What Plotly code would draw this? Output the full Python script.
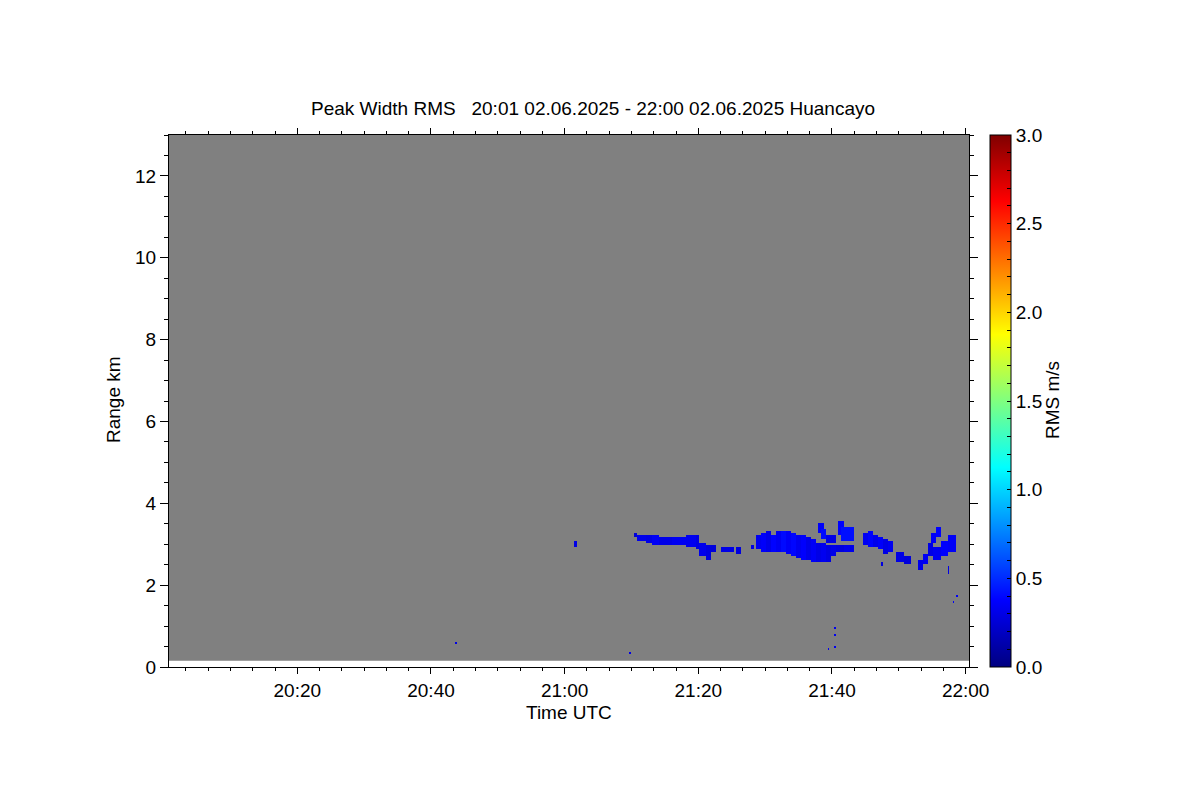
import numpy as np
import pandas as pd
import plotly.graph_objects as go

DAY = "2025-06-02"
T_START = "2025-06-02 20:00:48"
T_END = "2025-06-02 22:00:30"

# Echo segments:
# start / end (minutes after 20:00 UTC), bottom / top range (km), RMS (m/s)
seg_t0 = [61.5,
          70.49, 70.98, 72.23, 73.23, 74.23, 76.22, 78.22, 79.71, 80.21, 81.21, 81.96,
          83.45, 85.70,
          88.0, 88.69, 89.44, 90.19, 90.93, 91.68, 92.43, 93.18, 93.93, 94.67, 95.42,
          96.17, 96.92, 97.67, 98.41, 99.16, 99.91, 100.66, 102.0,
          97.9, 98.4, 99.16, 100.9, 101.4,
          104.64, 105.4, 106.13, 107.0, 107.63, 108.4, 107.6,
          109.63, 110.88,
          113.12, 113.87, 114.62, 115.0, 115.8,
          115.37, 116.4, 117.6, 117.5]
seg_t1 = [62.0,
          70.98, 72.23, 73.23, 74.23, 76.22, 78.22, 79.71, 80.21, 81.21, 81.96, 82.70,
          85.45, 86.45,
          88.5, 89.44, 90.19, 90.93, 91.68, 92.43, 93.18, 93.93, 94.67, 95.42, 96.17,
          96.92, 97.67, 98.41, 99.16, 99.91, 100.66, 102.0, 103.4,
          98.9, 99.2, 100.66, 102.1, 103.4,
          105.4, 106.13, 107.0, 107.63, 108.4, 109.13, 107.85,
          110.88, 112.12,
          113.87, 114.62, 115.37, 115.8, 116.6,
          116.4, 117.6, 118.87, 117.75]
seg_r0 = [2.97,
          3.20, 3.11, 3.06, 3.02, 3.00, 3.00, 2.93, 2.89, 2.77, 2.67, 2.84,
          2.84, 2.82,
          2.88, 2.91, 2.87, 2.85, 2.85, 2.85, 2.87, 2.81, 2.76, 2.71, 2.65,
          2.63, 2.61, 2.59, 2.59, 2.62, 2.73, 2.85, 2.87,
          3.30, 3.15, 3.07, 3.27, 3.10,
          2.98, 2.93, 2.93, 2.89, 2.81, 2.85, 2.49,
          2.61, 2.57,
          2.41, 2.53, 2.73, 3.05, 3.18,
          2.63, 2.73, 2.85, 2.31]
seg_r1 = [3.05,
          3.26, 3.24, 3.22, 3.22, 3.18, 3.18, 3.24, 3.20, 3.03, 2.95, 2.95,
          2.93, 2.91,
          2.98, 3.24, 3.28, 3.33, 3.24, 3.30, 3.33, 3.30, 3.26, 3.24, 3.21,
          3.16, 3.11, 3.03, 3.00, 2.98, 2.95, 2.98, 2.97,
          3.50, 3.38, 3.22, 3.59, 3.42,
          3.26, 3.30, 3.22, 3.18, 3.14, 3.06, 2.58,
          2.84, 2.73,
          2.61, 2.77, 3.00, 3.25, 3.40,
          2.93, 3.05, 3.22, 2.49]
seg_val = [0.30,
           0.27, 0.32, 0.30, 0.35, 0.31, 0.34, 0.33, 0.29, 0.32, 0.28, 0.27,
           0.30, 0.28,
           0.29, 0.33, 0.36, 0.31, 0.38, 0.34, 0.40, 0.35, 0.39, 0.33, 0.37,
           0.31, 0.35, 0.30, 0.33, 0.29, 0.31, 0.28, 0.32,
           0.36, 0.40, 0.30, 0.38, 0.42,
           0.34, 0.38, 0.32, 0.36, 0.30, 0.33, 0.28,
           0.30, 0.27,
           0.32, 0.34, 0.30, 0.36, 0.38,
           0.33, 0.37, 0.35, 0.30]

# Isolated single returns
dot_t = [43.7, 69.7, 99.4, 100.6, 100.6, 100.6, 118.3, 118.7]
dot_r = [0.61, 0.34, 0.46, 0.49, 0.80, 0.95, 1.62, 1.75]
dot_val = [0.30, 0.30, 0.33, 0.33, 0.33, 0.33, 0.35, 0.35]

# Axis / colourbar labels
y_ticks = [0, 2, 4, 6, 8, 10, 12]
cbar_vals = [round(0.1 * i, 1) for i in range(31)]
cbar_text = [f"{v:.1f}" if abs(v * 2 - round(v * 2)) < 1e-9 else "" for v in cbar_vals]

# --- measurement grid (time step 15 s, range gate 50 m)
t_grid = np.arange(40.0, 120.0001, 0.25)
r_grid = np.arange(0.15, 4.0001, 0.05)
z = np.full((len(r_grid), len(t_grid)), np.nan)
for t0, t1, r0, r1, v in zip(seg_t0, seg_t1, seg_r0, seg_r1, seg_val):
    tm = (t_grid >= t0 - 0.12) & (t_grid < t1 - 0.12)
    rm = (r_grid >= r0 - 0.025) & (r_grid <= r1 + 0.001)
    z[np.ix_(rm, tm)] = v
for t, r, v in zip(dot_t, dot_r, dot_val):
    i = int(np.argmin(np.abs(r_grid - r)))
    j = int(np.argmin(np.abs(t_grid - t)))
    z[i, j] = v

base = pd.Timestamp(f"{DAY} 20:00:00")
x_times = [(base + pd.Timedelta(minutes=float(t))).strftime("%Y-%m-%d %H:%M:%S") for t in t_grid]

jet = [[0.0, "rgb(0,0,128)"], [0.125, "rgb(0,0,255)"], [0.375, "rgb(0,255,255)"],
       [0.625, "rgb(255,255,0)"], [0.875, "rgb(255,0,0)"], [1.0, "rgb(128,0,0)"]]

FONT = "Liberation Sans"
FS = 19
# plot box in page pixels (page body has an 8 px margin)
L, T, W, H = 161, 127, 800, 532

fig = go.Figure()
fig.add_trace(go.Heatmap(
    x=x_times, y=r_grid, z=z, zmin=0, zmax=3, colorscale=jet,
    hoverongaps=False,
    colorbar=dict(
        x=21 / W + 1, xanchor="left", xpad=0, ypad=0,
        y=0.5, yanchor="middle", len=1, lenmode="fraction",
        thickness=21, thicknessmode="pixels",
        outlinewidth=1, outlinecolor="black",
        tickmode="array", tickvals=cbar_vals, ticktext=cbar_text,
        ticks="inside", ticklen=4, tickcolor="black", tickwidth=1,
        tickfont=dict(family=FONT, size=FS, color="black"),
    ),
))

fig.add_shape(type="rect", xref="paper", x0=0, x1=1, yref="y", y0=0.15, y1=13,
              fillcolor="rgb(128,128,128)", line=dict(width=0), layer="below")

fig.update_layout(
    width=1200, height=800,
    margin=dict(l=L, r=1200 - L - W, t=T, b=800 - T - H, autoexpand=False),
    paper_bgcolor="white", plot_bgcolor="white",
    font=dict(family=FONT, size=FS, color="black"),
    showlegend=False,
    xaxis=dict(
        type="date", range=[T_START, T_END],
        tick0=f"{DAY} 20:00:00", dtick=20 * 60 * 1000, tickformat="%H:%M",
        ticks="outside", ticklen=6, tickwidth=1, tickcolor="black",
        minor=dict(dtick=200 * 1000, tick0=f"{DAY} 20:00:00", ticks="outside",
                   ticklen=3, tickcolor="black", tickwidth=1, showgrid=False),
        showline=True, linecolor="black", linewidth=1, mirror="ticks",
        showgrid=False, zeroline=False,
        tickfont=dict(family=FONT, size=FS),
    ),
    yaxis=dict(
        range=[0, 13], tickmode="array", tickvals=y_ticks,
        ticktext=[str(v) for v in y_ticks],
        ticks="outside", ticklen=8, tickwidth=1, tickcolor="black",
        minor=dict(dtick=0.5, tick0=0, ticks="outside", ticklen=4,
                   tickcolor="black", tickwidth=1, showgrid=False),
        showline=True, linecolor="black", linewidth=1, mirror="ticks",
        showgrid=False, zeroline=False,
        tickfont=dict(family=FONT, size=FS),
    ),
    annotations=[
        dict(text="Peak Width RMS   20:01 02.06.2025 - 22:00 02.06.2025 Huancayo",
             xref="paper", yref="paper", x=(593 - 169) / W, y=(667 - 108) / H,
             xanchor="center", yanchor="middle", showarrow=False,
             font=dict(family=FONT, size=FS)),
        dict(text="Time UTC", xref="paper", yref="paper", x=(569 - 169) / W,
             y=(667 - 712) / H, xanchor="center", yanchor="middle",
             showarrow=False, font=dict(family=FONT, size=FS)),
        dict(text="Range km", xref="paper", yref="paper", x=(113 - 169) / W,
             y=(667 - 400) / H, xanchor="center", yanchor="middle", textangle=-90,
             showarrow=False, font=dict(family=FONT, size=FS)),
        dict(text="RMS m/s", xref="paper", yref="paper", x=(1052 - 169) / W,
             y=(667 - 400) / H, xanchor="center", yanchor="middle", textangle=-90,
             showarrow=False, font=dict(family=FONT, size=FS)),
    ],
)

fig.write_html("out.html")
